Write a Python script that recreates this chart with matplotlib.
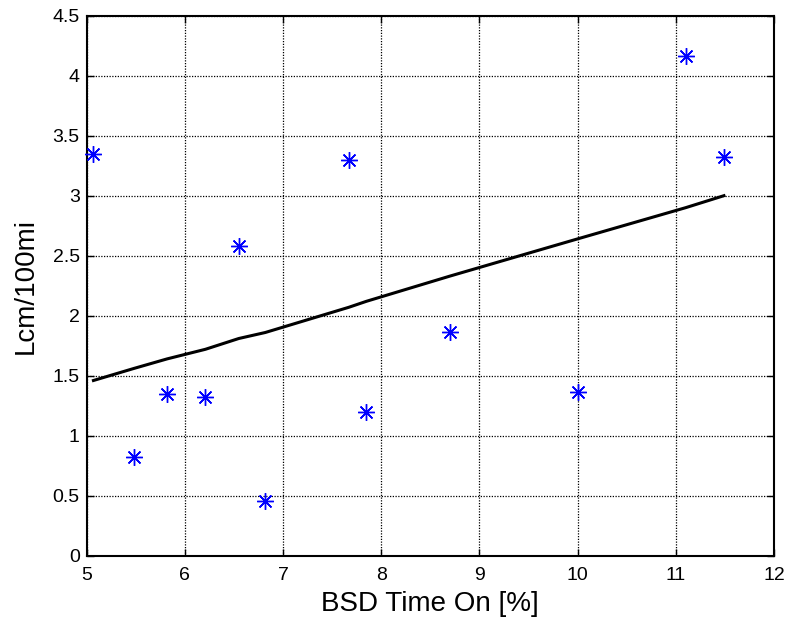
import matplotlib
matplotlib.use("Agg")
import matplotlib.pyplot as plt

plt.rcParams["font.family"] = ["Liberation Sans", "DejaVu Sans"]

# measured points: BSD time on [%] vs Lcm/100mi
bsd_on = [5.07, 5.48, 5.82, 6.21, 6.55, 6.82, 7.67, 7.85, 8.70, 10.00, 11.10, 11.49]
lcm = [3.35, 0.82, 1.35, 1.32, 2.58, 0.46, 3.30, 1.20, 1.86, 1.36, 4.16, 3.32]

# fitted trend, evaluated at the same x values
fit_y = [1.46, 1.56, 1.64, 1.72, 1.81, 1.86, 2.07, 2.12, 2.33, 2.64, 2.90, 3.00]

x_ticks = [5, 6, 7, 8, 9, 10, 11, 12]
y_ticks = [0, 0.5, 1, 1.5, 2, 2.5, 3, 3.5, 4, 4.5]
y_ticklabels = ["0", "0.5", "1", "1.5", "2", "2.5", "3", "3.5", "4", "4.5"]

fig = plt.figure(figsize=(7.87, 6.27), dpi=100)
ax = fig.add_axes([0.110, 0.1137, 0.8735, 0.8613])

ax.plot(bsd_on, lcm, linestyle="none", marker=(8, 2, 0), markersize=12,
        markeredgewidth=1.0, color="#0000ff", clip_on=False, zorder=3)
ax.plot(bsd_on, fit_y, color="black", linewidth=2.2, zorder=2)

ax.set_xlim(5, 12)
ax.set_ylim(0, 4.5)
ax.set_xticks(x_ticks)
ax.set_yticks(y_ticks)
ax.set_yticklabels(y_ticklabels)
ax.grid(True, color="black", linestyle=(0, (1, 1.2)), linewidth=0.9)
ax.tick_params(direction="in", length=5, width=1, labelsize=14, top=True, right=True)
ax.tick_params(axis="x", pad=8)
ax.tick_params(axis="y", pad=5)
for s in ax.spines.values():
    s.set_linewidth(1.5)

ax.set_xlabel("BSD Time On [%]", fontsize=20, labelpad=5)
ax.set_ylabel("Lcm/100mi", fontsize=20, labelpad=10)

fig.savefig("out.png", dpi=100)
